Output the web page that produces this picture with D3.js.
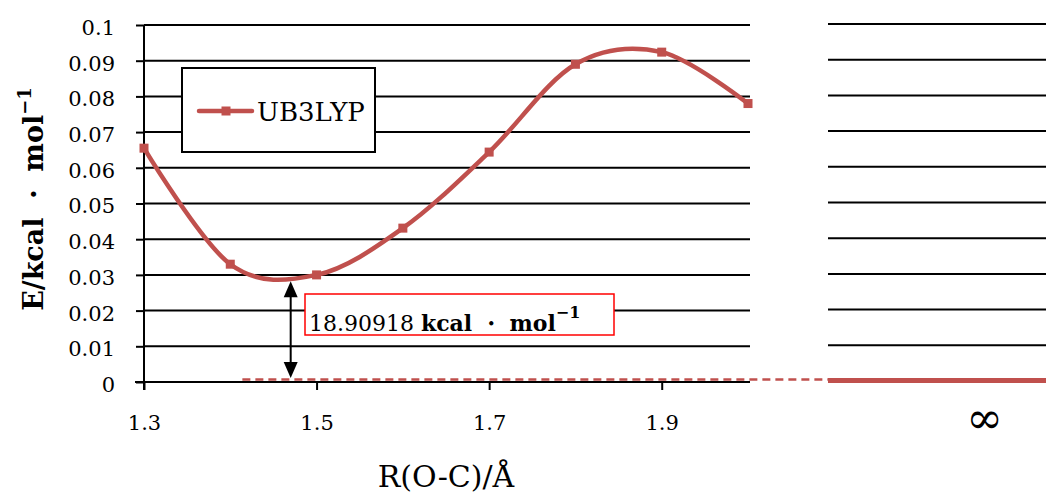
<!DOCTYPE html>
<html><head><meta charset="utf-8">
<script src="https://cdn.jsdelivr.net/npm/d3@7/dist/d3.min.js"></script>
<style>
html,body{margin:0;padding:0;background:#fff;}
svg{display:block;}
text{font-family:"DejaVu Serif",serif;fill:#000;}
</style></head>
<body>
<svg id="chart" width="1046" height="494"></svg>
<script>
// ---- data ----
const rValues  = [1.3, 1.4, 1.5, 1.6, 1.7, 1.8, 1.9, 2.0];
const energies = [0.0655, 0.033, 0.0300, 0.0431, 0.0644, 0.0890, 0.0924, 0.0780];
const seriesName = "UB3LYP";
const yTicks = [0, 0.01, 0.02, 0.03, 0.04, 0.05, 0.06, 0.07, 0.08, 0.09, 0.1];
const yTickLabels = ["0","0.01","0.02","0.03","0.04","0.05","0.06","0.07","0.08","0.09","0.1"];
const xTicks = [1.3, 1.5, 1.7, 1.9];
const xTickLabels = ["1.3","1.5","1.7","1.9"];
const infLabel = "∞";
const infEnergy = 0;
const arrowR = 1.47;
const arrowTop = 0.0285;
const bindingValue = "18.90918";
const bindingUnit = "kcal ・ mol";

const color = "#C0504D";
const svg = d3.select("#chart");

const x = d3.scaleLinear().domain([1.3, 2.0]).range([144, 748]);
const y = d3.scaleLinear().domain([0, 0.1]).range([382, 25]);
const xInf = d3.scaleLinear().domain([0, 1]).range([828, 1141]);

// gridlines main
svg.append("g").selectAll("line").data(yTicks.filter(d => d > 0)).join("line")
  .attr("x1", x(1.3)).attr("x2", x(2.0) + 2)
  .attr("y1", d => y(d)).attr("y2", d => y(d))
  .attr("stroke", "#000").attr("stroke-width", 2);
// gridlines inf panel
svg.append("g").selectAll("line").data(yTicks.filter(d => d > 0)).join("line")
  .attr("x1", xInf(0)).attr("x2", 1046)
  .attr("y1", d => y(d) - 1).attr("y2", d => y(d) - 1)
  .attr("stroke", "#000").attr("stroke-width", 2);

// y axis
const yAxis = d3.axisLeft(y).tickValues(yTicks).tickFormat((d, i) => yTickLabels[i])
  .tickSizeInner(8).tickSizeOuter(0).tickPadding(21);
const gy = svg.append("g").attr("transform", `translate(${x(1.3)},0)`).call(yAxis);
gy.select(".domain").attr("stroke-width", 2).attr("d", `M0,${y(0.1)}V${y(0) + 8}`);
gy.selectAll(".tick line").attr("stroke-width", 2);
gy.selectAll(".tick text").attr("font-family", "DejaVu Serif").attr("font-size", 21).attr("dy", "0.45em");

// x axis
const xAxis = d3.axisBottom(x).tickValues(xTicks).tickFormat((d, i) => xTickLabels[i])
  .tickSizeInner(8).tickSizeOuter(0).tickPadding(25);
const gx = svg.append("g").attr("transform", `translate(0,${y(0)})`).call(xAxis);
gx.select(".domain").attr("stroke-width", 2).attr("d", `M${x(1.3) - 9},0H${x(2.0) + 2}`);
gx.selectAll(".tick line").attr("stroke-width", 2);
gx.selectAll(".tick text").attr("font-family", "DejaVu Serif").attr("font-size", 21);

// dashed zero reference line
svg.append("line")
  .attr("x1", x(1.414)).attr("x2", xInf(0))
  .attr("y1", y(infEnergy) - 2.5).attr("y2", y(infEnergy) - 2.5)
  .attr("stroke", color).attr("stroke-width", 2.5).attr("stroke-dasharray", "8,5");

// infinity panel level
svg.append("line")
  .attr("x1", xInf(0)).attr("x2", 1046)
  .attr("y1", y(infEnergy) - 1.5).attr("y2", y(infEnergy) - 1.5)
  .attr("stroke", color).attr("stroke-width", 5);
svg.append("text").attr("x", xInf(0.5)).attr("y", 433)
  .attr("text-anchor", "middle").attr("font-size", 44).text(infLabel);

// series line
const pts = rValues.map((r, i) => [r, energies[i]]);
const line = d3.line().x(d => x(d[0])).y(d => y(d[1])).curve(d3.curveCardinal.tension(0));
svg.append("path").datum(pts).attr("d", line)
  .attr("fill", "none").attr("stroke", color).attr("stroke-width", 4.5).attr("stroke-linejoin", "round");
svg.append("g").selectAll("rect").data(pts).join("rect")
  .attr("x", d => x(d[0]) - 4.5).attr("y", d => y(d[1]) - 4.5)
  .attr("width", 9).attr("height", 9).attr("fill", color);

// arrow
const ax = x(arrowR), ay1 = y(arrowTop) + 1, ay2 = y(infEnergy) - 4;
svg.append("line").attr("x1", ax).attr("x2", ax).attr("y1", ay1 + 12).attr("y2", ay2 - 12)
  .attr("stroke", "#000").attr("stroke-width", 2);
svg.append("path").attr("d", `M${ax},${ay1}L${ax - 7},${ay1 + 16}L${ax + 7},${ay1 + 16}Z`).attr("fill", "#000");
svg.append("path").attr("d", `M${ax},${ay2}L${ax - 7},${ay2 - 16}L${ax + 7},${ay2 - 16}Z`).attr("fill", "#000");

// annotation box
svg.append("rect").attr("x", 305).attr("y", 294).attr("width", 309).attr("height", 41)
  .attr("fill", "#fff").attr("stroke", "#ff0000").attr("stroke-width", 1.5);
const ann = svg.append("text").attr("x", 309).attr("y", 331).attr("font-size", 22);
ann.append("tspan").text(bindingValue + " ");
ann.append("tspan").attr("font-weight", "bold").text(bindingUnit);
ann.append("tspan").attr("font-weight", "bold").attr("font-size", 16).attr("dy", -13).text("−1");

// legend
svg.append("rect").attr("x", 182).attr("y", 68).attr("width", 193).attr("height", 84)
  .attr("fill", "#fff").attr("stroke", "#000").attr("stroke-width", 2);
svg.append("line").attr("x1", 199).attr("x2", 252).attr("y1", 111).attr("y2", 111)
  .attr("stroke", color).attr("stroke-width", 4.5).attr("stroke-linecap", "round");
svg.append("rect").attr("x", 221.5).attr("y", 106.5).attr("width", 9).attr("height", 9).attr("fill", color);
svg.append("text").attr("x", 257).attr("y", 121).attr("font-size", 26).text(seriesName);

// axis titles
svg.append("text").attr("x", 446).attr("y", 487).attr("text-anchor", "middle")
  .attr("font-size", 30).text("R(O-C)/Å");
const yt = svg.append("text").attr("transform", "translate(43,199) rotate(-90)")
  .attr("text-anchor", "middle").attr("font-size", 27).attr("font-weight", "bold");
yt.append("tspan").text("E/kcal ・ mol");
yt.append("tspan").attr("font-size", 18).attr("dy", -12).text("−1");
</script>
</body></html>
